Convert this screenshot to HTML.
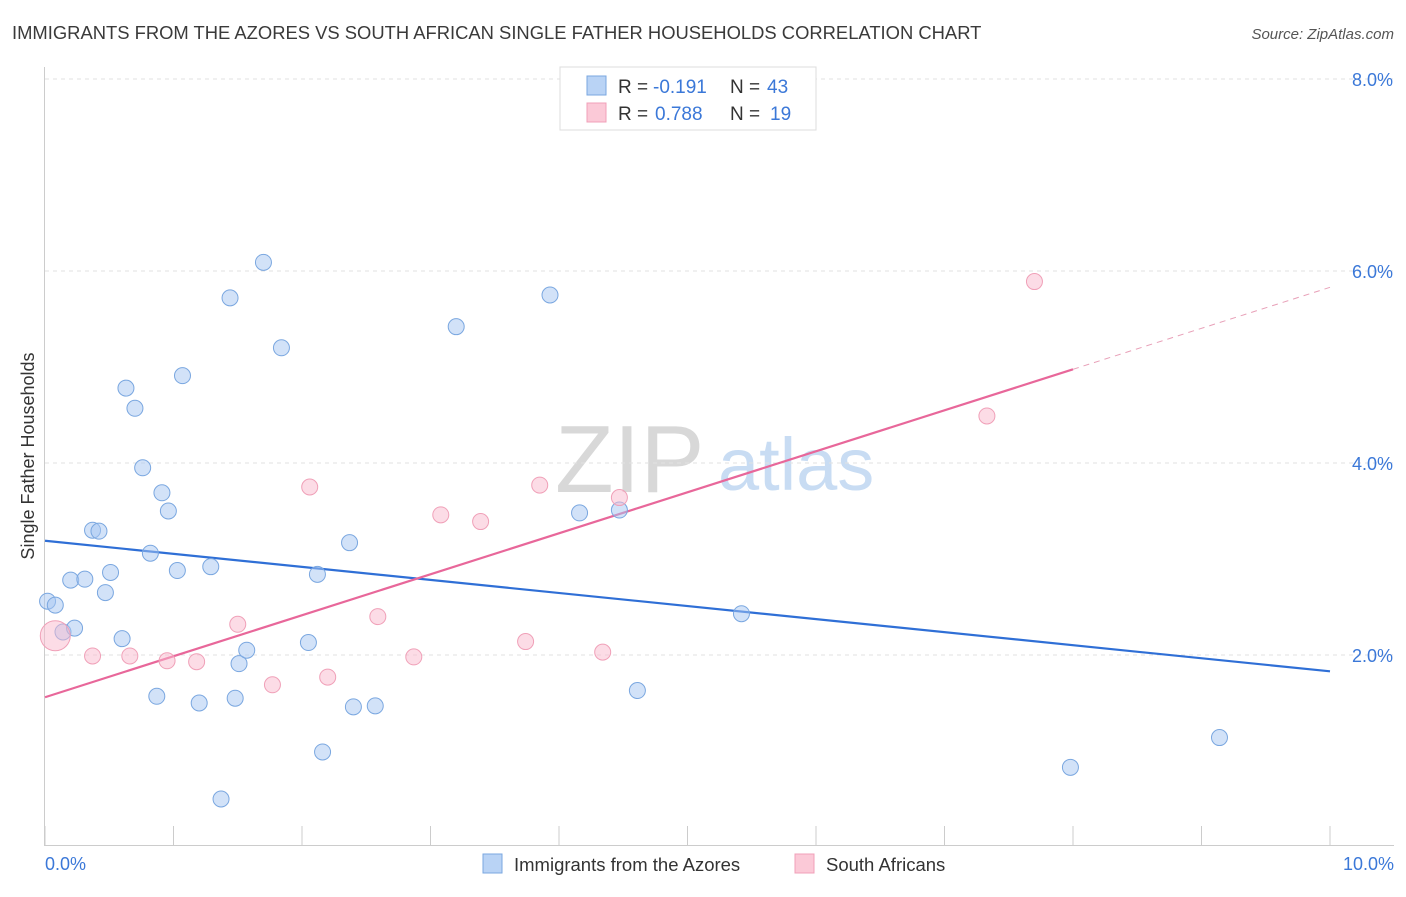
<!DOCTYPE html>
<html><head><meta charset="utf-8"><style>
body{margin:0;background:#fff;font-family:"Liberation Sans",sans-serif}
svg text{font-family:"Liberation Sans",sans-serif}
</style></head><body>
<svg id="chart" width="1406" height="892" viewBox="0 0 1406 892" xmlns="http://www.w3.org/2000/svg">
<text x="12" y="39" font-size="18.4" fill="#3a3a3a">IMMIGRANTS FROM THE AZORES VS SOUTH AFRICAN SINGLE FATHER HOUSEHOLDS CORRELATION CHART</text>
<text x="1394" y="39" font-size="15" fill="#555" text-anchor="end" font-style="italic">Source: ZipAtlas.com</text>
<g>
<text x="555" y="492" font-size="96" fill="#d8d8d8" font-family="Liberation Serif,serif">ZIP</text>
<text x="718" y="490" font-size="74" fill="#c8dcf3">atlas</text>
</g>
<g id="grid"></g>
<line x1="44.5" y1="67" x2="44.5" y2="845" stroke="#ccc"/>
<line x1="44" y1="845.5" x2="1394" y2="845.5" stroke="#ccc"/>
<g id="xticks"></g>
<text transform="translate(34,456) rotate(-90)" font-size="18" fill="#333" text-anchor="middle">Single Father Households</text>
<text x="45" y="870" font-size="18" fill="#3b78d8">0.0%</text>
<text x="1394" y="870" font-size="18" fill="#3b78d8" text-anchor="end">10.0%</text>
<g id="trends"></g>
<g id="points"></g>
<g>
<rect x="560" y="67" width="256" height="63" fill="#fff" stroke="#ddd"/>
<rect x="587" y="76" width="19" height="19" fill="#b9d3f5" stroke="#7aa7e0"/>
<rect x="587" y="103" width="19" height="19" fill="#fbc9d7" stroke="#f0a0b8"/>
<text x="618" y="93" font-size="19" fill="#333">R =</text>
<text x="653" y="93" font-size="19" fill="#3b78d8">-0.191</text>
<text x="730" y="93" font-size="19" fill="#333">N =</text>
<text x="767" y="93" font-size="19" fill="#3b78d8">43</text>
<text x="618" y="120" font-size="19" fill="#333">R =</text>
<text x="655" y="120" font-size="19" fill="#3b78d8">0.788</text>
<text x="730" y="120" font-size="19" fill="#333">N =</text>
<text x="770" y="120" font-size="19" fill="#3b78d8">19</text>
</g>
<g>
<rect x="483" y="854" width="19" height="19" fill="#b9d3f5" stroke="#7aa7e0"/>
<text x="514" y="871" font-size="18.5" fill="#333">Immigrants from the Azores</text>
<rect x="795" y="854" width="19" height="19" fill="#fbc9d7" stroke="#f0a0b8"/>
<text x="826" y="871" font-size="18.5" fill="#333">South Africans</text>
</g>
</svg>
<script>
const yTicks=[2,4,6,8];
const yTickLabels=["2.0%","4.0%","6.0%","8.0%"];
const xTicks=[0,1,2,3,4,5,6,7,8,9,10];
const blueX=[0.02,0.08,0.14,0.20,0.23,0.31,0.37,0.42,0.47,0.51,0.60,0.63,0.70,0.76,0.82,0.87,0.91,0.96,1.03,1.07,1.20,1.29,1.37,1.44,1.48,1.51,1.57,1.70,1.84,2.05,2.12,2.16,2.37,2.40,2.57,3.20,3.93,4.16,4.47,4.61,5.42,7.98,9.14];
const blueY=[2.56,2.52,2.24,2.78,2.28,2.79,3.30,3.29,2.65,2.86,2.17,4.78,4.57,3.95,3.06,1.57,3.69,3.50,2.88,4.91,1.50,2.92,0.50,5.72,1.55,1.91,2.05,6.09,5.20,2.13,2.84,0.99,3.17,1.46,1.47,5.42,5.75,3.48,3.51,1.63,2.43,0.83,1.14];
const pinkX=[0.08,0.37,0.66,0.95,1.18,1.50,1.77,2.06,2.20,2.59,2.87,3.08,3.39,3.74,3.85,4.34,4.47,7.33,7.70];
const pinkY=[2.20,1.99,1.99,1.94,1.93,2.32,1.69,3.75,1.77,2.40,1.98,3.46,3.39,2.14,3.77,2.03,3.64,4.49,5.89];
const pinkSize=[15,8,8,8,8,8,8,8,8,8,8,8,8,8,8,8,8,8,8];
const blueTrend=[3.19,1.83];
const pinkTrend=[1.56,5.83];
const pinkSolidEnd=8.0;
const NS="http://www.w3.org/2000/svg";
const sx=v=>45+v*128.5, sy=v=>847-v*96;
function mk(tag,attrs,parent){const e=document.createElementNS(NS,tag);for(const k in attrs)e.setAttribute(k,attrs[k]);document.getElementById(parent).appendChild(e);return e;}
yTicks.forEach((t,i)=>{
 const l=mk('line',{x1:45,x2:1394,y1:sy(t),y2:sy(t),stroke:'#e2e2e2','stroke-dasharray':'4,4'},'grid');
 
 
 const tx=mk('text',{x:1393,y:sy(t)+7,'font-size':18,fill:'#3b78d8','text-anchor':'end'},'grid');
 tx.textContent=yTickLabels[i];
 
 
});
xTicks.forEach(t=>{
 const l=mk('line',{x1:sx(t),x2:sx(t),y1:826,y2:845,stroke:'#ccc'},'xticks');
 
 
});
const bl=mk('line',{x1:sx(0),y1:sy(blueTrend[0]),x2:sx(10),y2:sy(blueTrend[1]),stroke:'#2f6fd6','stroke-width':2.2},'trends');


const pAt=x=>pinkTrend[0]+(pinkTrend[1]-pinkTrend[0])*x/10;
const pl=mk('line',{x1:sx(0),y1:sy(pAt(0)),x2:sx(pinkSolidEnd),y2:sy(pAt(pinkSolidEnd)),stroke:'#e8679a','stroke-width':2.2},'trends');


const pd=mk('line',{x1:sx(pinkSolidEnd),y1:sy(pAt(pinkSolidEnd)),x2:sx(10),y2:sy(pAt(10)),stroke:'#e8a0b8','stroke-width':1,'stroke-dasharray':'6,5'},'trends');


blueX.forEach((x,i)=>{
 const c=mk('circle',{cx:sx(x),cy:sy(blueY[i]),r:8,fill:'rgba(165,198,242,0.5)',stroke:'#7aa7e0','stroke-width':1},'points');
 
 
});
pinkX.forEach((x,i)=>{
 const c=mk('circle',{cx:sx(x),cy:sy(pinkY[i]),r:pinkSize[i],fill:'rgba(250,185,205,0.5)',stroke:'#f0a0b8','stroke-width':1},'points');
 
 
});
</script>
</body></html>
